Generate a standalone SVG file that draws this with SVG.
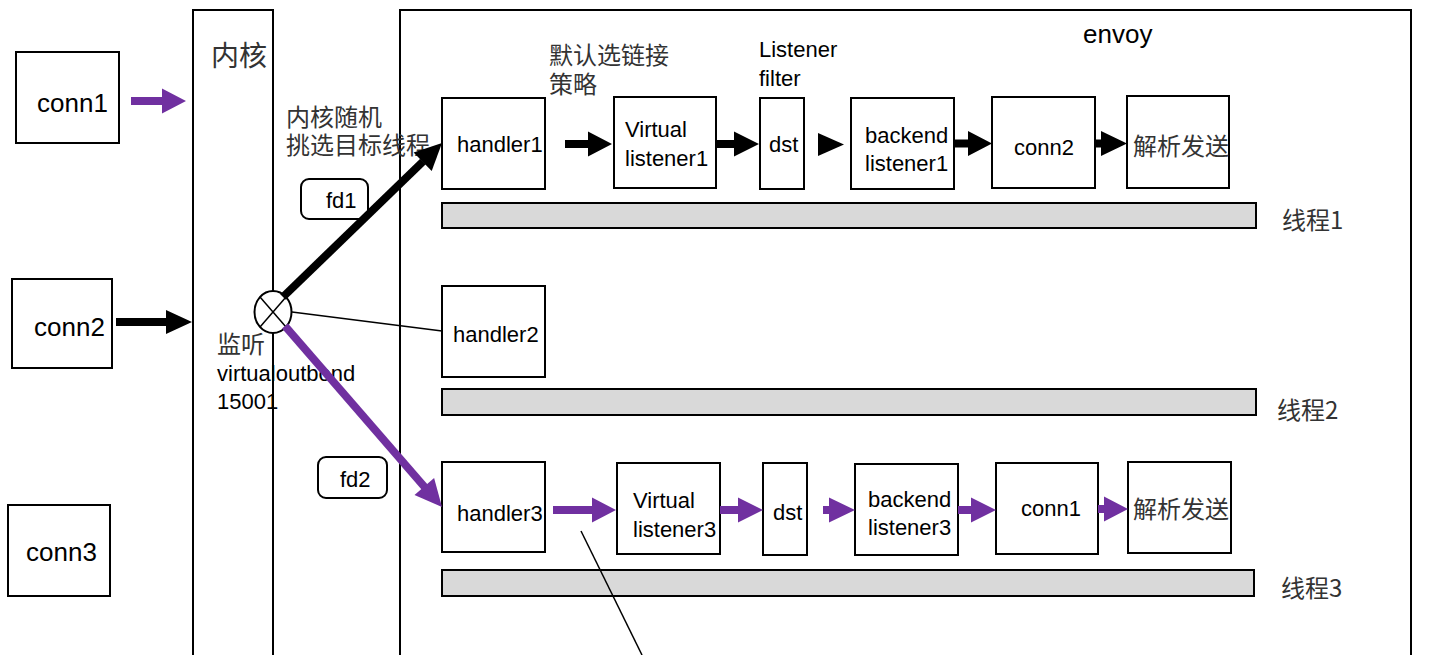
<svg xmlns="http://www.w3.org/2000/svg" width="1433" height="655" viewBox="0 0 1433 655">
<style>
.box{fill:#fff;stroke:#000;stroke-width:2}
.bar{fill:#d9d9d9;stroke:#000;stroke-width:2}
.t{font-family:"Liberation Sans","Noto Sans CJK SC",sans-serif;font-size:22px;fill:#000}
.big{font-size:26px}
.cjk{font-family:"Noto Sans CJK SC",sans-serif;font-size:24px;fill:#333}
.blk{fill:#000}
.pur{fill:#7030A0}
.thin{stroke:#000;stroke-width:1.5;fill:none}
</style>
<rect width="1433" height="655" fill="#fff"/>

<g id="kernel">
<rect class="box" x="193" y="10" width="80" height="660"/>
<text class="cjk" x="211" y="66" style="font-size:28px">内核</text>
</g>
<g id="envoy">
<rect class="box" x="400" y="10" width="1011" height="660"/>
<text class="t big" x="1083" y="43">envoy</text>
</g>

<g id="conn1"><rect class="box" x="16" y="52" width="103" height="91"/><text class="t big" x="37" y="112">conn1</text></g>
<g id="conn2"><rect class="box" x="12" y="279" width="100" height="89"/><text class="t big" x="34" y="336">conn2</text></g>
<g id="conn3"><rect class="box" x="8" y="505" width="102" height="91"/><text class="t big" x="26" y="561">conn3</text></g>

<g id="listen">
<ellipse cx="273" cy="312" rx="18.5" ry="21" fill="#fff" stroke="#000" stroke-width="2"/>
<line x1="260" y1="297" x2="286" y2="327" stroke="#000" stroke-width="1.5"/>
<line x1="286" y1="297" x2="260" y2="327" stroke="#000" stroke-width="1.5"/>
<text class="cjk" x="217" y="353">监听</text>
<text class="t" x="217" y="381">virtualoutbond<tspan x="217" dy="28">15001</tspan></text>
</g>

<g id="label-kernel-pick">
<text class="cjk" x="286" y="126">内核随机<tspan x="286" dy="28">挑选目标线程</tspan></text>
</g>
<g id="label-policy">
<text class="cjk" x="549" y="64">默认选链接<tspan x="549" dy="29">策略</tspan></text>
</g>
<g id="label-lf">
<text class="t" x="759" y="57">Listener<tspan x="759" dy="29">filter</tspan></text>
</g>

<g id="fd1"><rect class="box" x="301" y="179" width="67" height="40" rx="8"/><text class="t" x="326" y="208">fd1</text></g>
<g id="fd2"><rect class="box" x="318" y="457" width="69" height="41" rx="8"/><text class="t" x="340" y="487">fd2</text></g>

<g id="row1">
<g id="handler1"><rect class="box" x="442" y="98" width="103" height="91"/><text class="t" x="457" y="152">handler1</text></g>
<g id="vl1"><rect class="box" x="614" y="97" width="102" height="91"/><text class="t" x="625" y="137">Virtual<tspan x="625" dy="29">listener1</tspan></text></g>
<g id="dst1"><rect class="box" x="760" y="98" width="44" height="91"/><text class="t" x="769" y="152">dst</text></g>
<g id="bl1"><rect class="box" x="851" y="98" width="103" height="91"/><text class="t" x="865" y="143">backend<tspan x="865" dy="28">listener1</tspan></text></g>
<g id="conn2b"><rect class="box" x="992" y="97" width="103" height="91"/><text class="t" x="1014" y="155">conn2</text></g>
<g id="parse1"><rect class="box" x="1127" y="96" width="102" height="92"/><text class="cjk" x="1133" y="155">解析发送</text></g>
<g id="thread1"><rect class="bar" x="442" y="203" width="814" height="25"/><text class="cjk" x="1282" y="229">线程1</text></g>
</g>

<g id="row2">
<g id="handler2"><rect class="box" x="442" y="286" width="103" height="91"/><text class="t" x="453" y="342">handler2</text></g>
<g id="thread2"><rect class="bar" x="442" y="389" width="814" height="26"/><text class="cjk" x="1277" y="419">线程2</text></g>
</g>

<g id="row3">
<g id="handler3"><rect class="box" x="442" y="462" width="103" height="90"/><text class="t" x="457" y="521">handler3</text></g>
<g id="vl3"><rect class="box" x="617" y="463" width="103" height="91"/><text class="t" x="633" y="508">Virtual<tspan x="633" dy="29">listener3</tspan></text></g>
<g id="dst3"><rect class="box" x="763" y="463" width="44" height="92"/><text class="t" x="773" y="520">dst</text></g>
<g id="bl3"><rect class="box" x="855" y="464" width="103" height="91"/><text class="t" x="868" y="507">backend<tspan x="868" dy="28">listener3</tspan></text></g>
<g id="conn1b"><rect class="box" x="996" y="463" width="102" height="91"/><text class="t" x="1021" y="516">conn1</text></g>
<g id="parse3"><rect class="box" x="1128" y="462" width="103" height="91"/><text class="cjk" x="1133" y="518">解析发送</text></g>
<g id="thread3"><rect class="bar" x="442" y="570" width="812" height="26"/><text class="cjk" x="1281" y="597">线程3</text></g>
</g>

<g id="connectors">
<polygon class="pur" points="131,97 162,97 162,88.5 186,101 162,113.5 162,105 131,105"/>
<polygon class="blk" points="116,318 166,318 166,310 192,322 166,334 166,326 116,326"/>

<line x1="283" y1="297" x2="423" y2="161.5" stroke="#000" stroke-width="8"/>
<polygon class="blk" points="442,143 431.7,171.1 413.6,152.5"/>
<line x1="285" y1="326" x2="425" y2="487.5" stroke="#7030A0" stroke-width="8"/>
<polygon class="pur" points="442,507 414.5,495.1 434.1,478.1"/>
<line class="thin" x1="292" y1="312" x2="442" y2="331"/>
<line class="thin" x1="581" y1="531" x2="642" y2="655"/>

<polygon class="blk" points="565,140 588,140 588,131.5 612,144 588,156.5 588,148 565,148"/>
<polygon class="blk" points="716,140 734,140 734,131.5 759,144 734,156.5 734,148 716,148"/>
<polygon class="blk" points="818,133 844,144.5 818,156"/>
<polygon class="blk" points="954,139.5 968,139.5 968,131 992,143.5 968,156 968,147.5 954,147.5"/>
<polygon class="blk" points="1095,139.5 1101,139.5 1101,131 1127,143.5 1101,156 1101,147.5 1095,147.5"/>

<polygon class="pur" points="553,506 592,506 592,497.5 616,510 592,522.5 592,514 553,514"/>
<polygon class="pur" points="720,506 738,506 738,497.5 763,510 738,522.5 738,514 720,514"/>
<polygon class="pur" points="823,506 829,506 829,497.5 855,510 829,522.5 829,514 823,514"/>
<polygon class="pur" points="958,506 971,506 971,497.5 996,510 971,522.5 971,514 958,514"/>
<polygon class="pur" points="1098,505 1104,505 1104,496.5 1128,509 1104,521.5 1104,513 1098,513"/>
</g>
</svg>
